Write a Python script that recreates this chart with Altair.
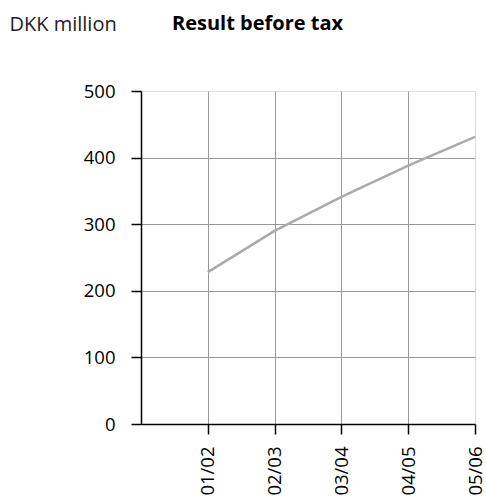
import altair as alt
import pandas as pd

periods = ["01/02", "02/03", "03/04", "04/05", "05/06"]
positions = [1, 2, 3, 4, 5]
result_before_tax = [228, 290, 341, 388, 431]

df = pd.DataFrame({"pos": positions, "period": periods, "value": result_before_tax})

FONT = "Open Sans"
FS = 18.5
TFS = 20
label_expr = "{1:'01/02',2:'02/03',3:'03/04',4:'04/05',5:'05/06'}[datum.value]"

line = alt.Chart(df).mark_line(color="#aaaaaa", strokeWidth=2.5).encode(
    x=alt.X("pos:Q", scale=alt.Scale(domain=[0, 5], nice=False, zero=False),
            axis=alt.Axis(values=positions, labelExpr=label_expr, title=None,
                          labelAngle=-90, labelPadding=12, tickSize=10,
                          domainColor="black", tickColor="black", domainWidth=1.5,
                          tickWidth=1.5, labelFont=FONT, labelFontSize=FS,
                          labelColor="black",
                          grid=True, gridColor="#999999", gridWidth=1,
                          gridOpacity=alt.condition("datum.value == 5", alt.value(0), alt.value(1)))),
    y=alt.Y("value:Q", scale=alt.Scale(domain=[0, 500], nice=False),
            axis=alt.Axis(values=[0, 100, 200, 300, 400, 500], title="DKK million",
                          titleAngle=0, titleX=-132, titleY=-61, titleAlign="left",
                          titleBaseline="alphabetic", titleFont=FONT, titleFontSize=TFS,
                          titleFontWeight="normal", titleColor="#222222",
                          labelPadding=16, tickSize=10, domainColor="black",
                          tickColor="black", domainWidth=1.5, tickWidth=1.5,
                          labelFont=FONT, labelFontSize=FS, labelColor="black",
                          grid=True, gridColor="#999999", gridWidth=1,
                          gridOpacity=alt.condition("datum.value == 500 || datum.value == 0", alt.value(0), alt.value(1)))),
)

title_text = alt.Chart(pd.DataFrame({"t": ["Result before tax"]})).mark_text(
    align="left", baseline="alphabetic", font=FONT, fontSize=TFS, fontWeight="bold",
    color="black"
).encode(text="t:N", x=alt.value(31), y=alt.value(-61))

chart = alt.layer(line, title_text).properties(
    width=334, height=333,
    autosize=alt.AutoSizeParams(type="none"),
    padding={"left": 141, "top": 91, "right": 11, "bottom": 75},
).configure_view(stroke=None).configure(background="white")

chart.save("out.html", embed_options={"renderer": "svg", "actions": False})
